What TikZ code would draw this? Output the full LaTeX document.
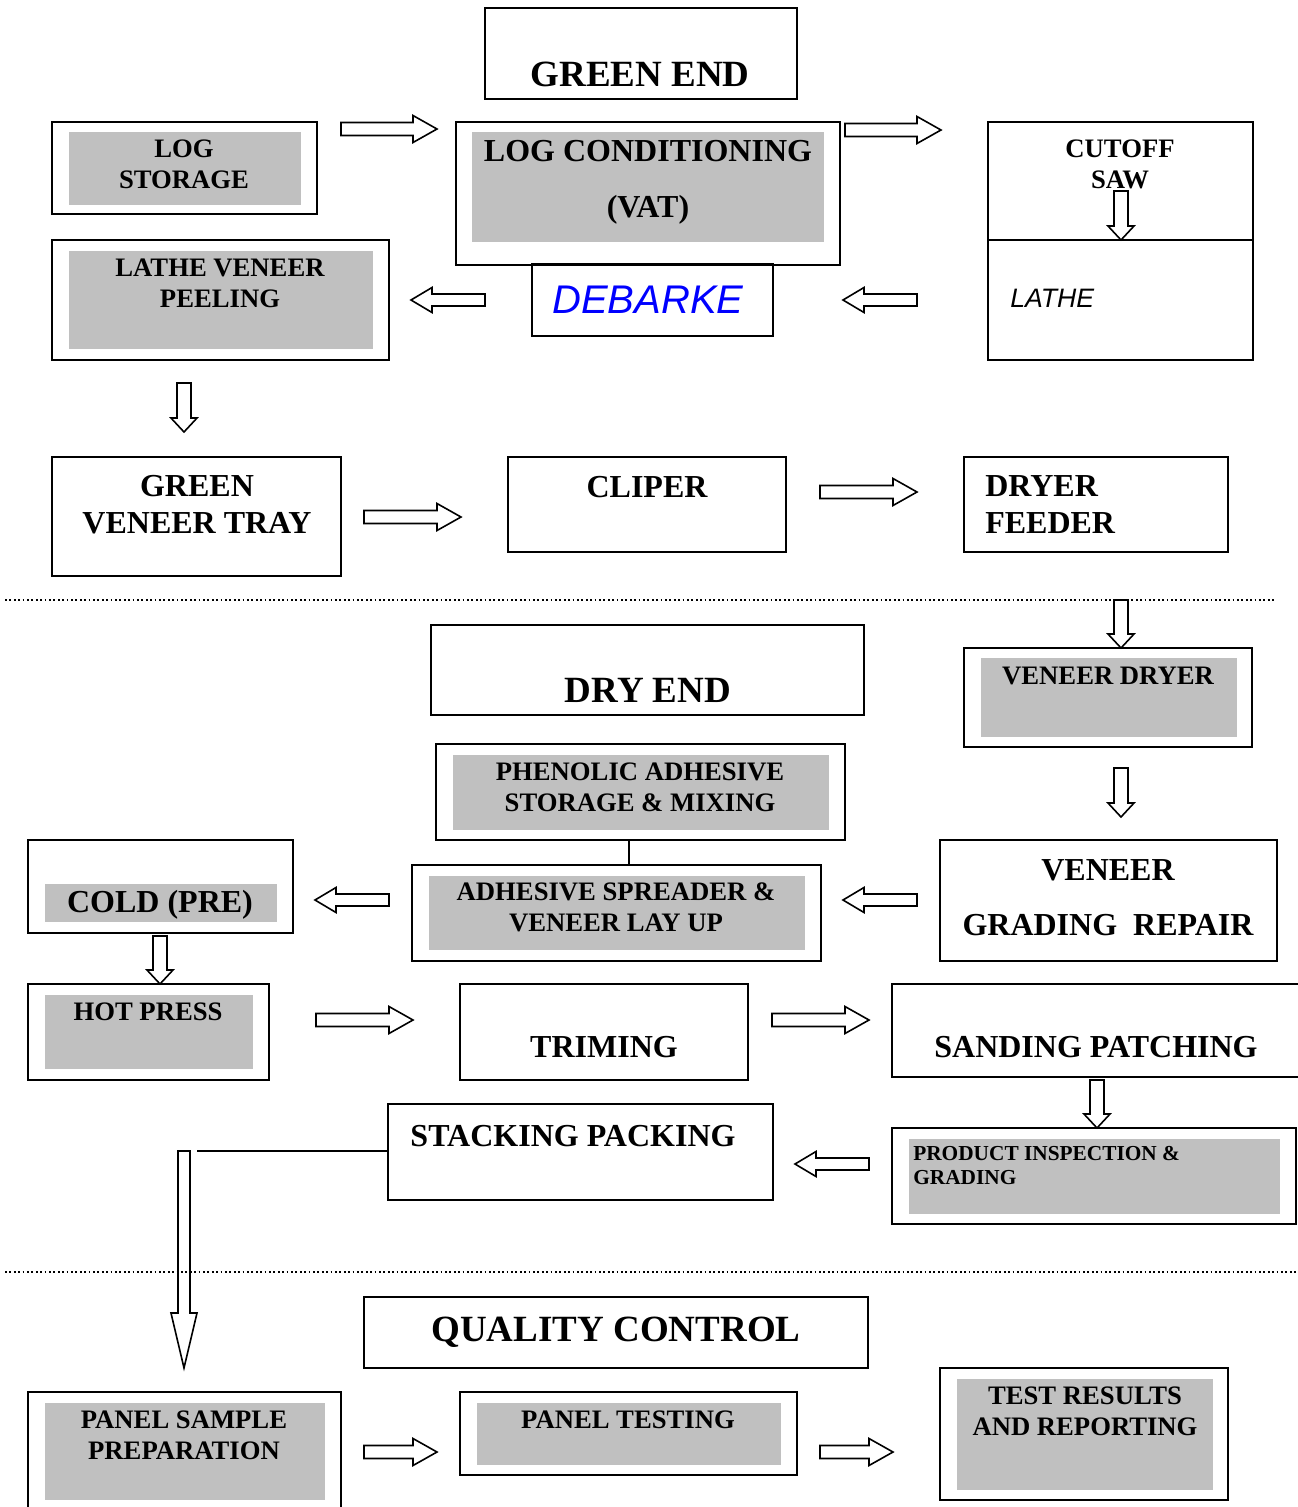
\documentclass[tikz,border=0pt]{standalone}
\usepackage{fontspec}
\setmainfont{Liberation Serif}
\newfontfamily\arialf{Liberation Sans}
\usetikzlibrary{fit}
\definecolor{boxgray}{HTML}{C0C0C0}
\definecolor{debblue}{HTML}{0000FF}
\tikzset{
  box/.style={draw, line width=1.3pt, inner sep=0pt, fit={#1}},
  shade/.style={fill=boxgray, inner sep=0pt, fit={#1}},
  tsmall/.style={font=\bfseries\fontsize{20}{23.25}\selectfont, align=center, inner sep=0pt},
  tmed/.style={font=\bfseries\fontsize{24}{27.75}\selectfont, align=center, inner sep=0pt},
  tbig/.style={font=\bfseries\fontsize{27.75}{33}\selectfont, align=center, inner sep=0pt},
  ln/.style={line width=1.3pt},
  sep/.style={line width=1.3pt, dotted},
  harrow/.style={draw, line width=1.2pt, fill=white, line join=miter}
}
% hollow block arrows
\newcommand\arrR[3]{\draw[harrow] (#1,#3-6.5) -- (#2-24,#3-6.5) -- (#2-24,#3-13.5) -- (#2,#3) -- (#2-24,#3+13.5) -- (#2-24,#3+6.5) -- (#1,#3+6.5) -- cycle;}
\newcommand\arrL[3]{\draw[harrow] (#2,#3-6) -- (#1+21,#3-6) -- (#1+21,#3-12.5) -- (#1,#3) -- (#1+21,#3+12.5) -- (#1+21,#3+6) -- (#2,#3+6) -- cycle;}
\newcommand\arrD[3]{\draw[harrow] (#1-7,#2) -- (#1+7,#2) -- (#1+7,#3-14) -- (#1+13,#3-14) -- (#1,#3) -- (#1-13,#3-14) -- (#1-7,#3-14) -- cycle;}
\begin{document}
\begin{tikzpicture}[x=0.75pt,y=-0.75pt]
\useasboundingbox (0,0) rectangle (1298,1507);

% ---------- GREEN END ----------
\node[box={(485,8) (797,99)}] (greenend) {};
\node[tbig] (greenend-t) at (640,74) {GREEN END};

\node[box={(52,122) (317,214)}] (logst) {};
\node[shade={(69,132) (301,205)}] (logst-s) {};
\node[tsmall] (logst-t) at (184,164) {LOG\\STORAGE};

\node[box={(456,122) (840,265)}] (logcond) {};
\node[shade={(472,132) (824,242)}] (logcond-s) {};
\node[tmed, font=\bfseries\fontsize{24}{42}\selectfont] (logcond-t) at (648,182) {LOG CONDITIONING\\(VAT)};

\node[box={(988,122) (1253,240)}] (cutoff) {};
\node[tsmall] (cutoff-t) at (1120,164) {CUTOFF\\SAW};
\node[box={(988,240) (1253,360)}] (lathe) {};
\node[font=\arialf\itshape\fontsize{20}{24}\selectfont, anchor=west, inner sep=0pt] (lathe-t) at (1010,298) {LATHE};

\node[box={(52,240) (389,360)}] (peel) {};
\node[shade={(69,251) (373,349)}] (peel-s) {};
\node[tsmall] (peel-t) at (220,283) {LATHE VENEER\\PEELING};

\node[box={(532,264) (773,336)}] (debark) {};
\node[font=\arialf\itshape\fontsize{30}{36}\selectfont, text=debblue, inner sep=0pt] (debark-t) at (648,300) {DEBARKE};

\node[box={(52,457) (341,576)}] (gvt) {};
\node[tmed] (gvt-t) at (197,505) {GREEN\\VENEER TRAY};

\node[box={(508,457) (786,552)}] (cliper) {};
\node[tmed] (cliper-t) at (647,487) {CLIPER};

\node[box={(964,457) (1228,552)}] (feeder) {};
\node[tmed, align=left, anchor=west] (feeder-t) at (985,505) {DRYER\\FEEDER};

\arrR{341}{437}{129}
\arrR{845}{941}{130}
\arrD{1121}{191}{240}
\arrL{411}{485}{300}
\arrL{843}{917}{300}
\arrD{184}{383}{432}
\arrR{364}{461}{517}
\arrR{820}{917}{492}

\draw[sep] (5,600) -- (1275,600);

% ---------- DRY END ----------
\node[box={(431,625) (864,715)}] (dryend) {};
\node[tbig] (dryend-t) at (648,690) {DRY END};

\node[box={(964,648) (1252,747)}] (vdryer) {};
\node[shade={(981,658) (1237,737)}] (vdryer-s) {};
\node[tsmall] (vdryer-t) at (1108,676) {VENEER DRYER};

\node[box={(436,744) (845,840)}] (phen) {};
\node[shade={(453,755) (829,830)}] (phen-s) {};
\node[tsmall] (phen-t) at (640,787) {PHENOLIC ADHESIVE\\STORAGE \& MIXING};

\node[box={(412,865) (821,961)}] (adh) {};
\node[shade={(429,876) (805,950)}] (adh-s) {};
\node[tsmall] (adh-t) at (616,907) {ADHESIVE SPREADER \&\\VENEER LAY UP};

\coordinate (pv) at (629,850);
\draw[ln] (pv |- phen.south) -- (pv |- adh.north);

\node[box={(28,840) (293,933)}] (cold) {};
\node[shade={(45,884) (277,922)}] (cold-s) {};
\node[tmed] (cold-t) at (160,905) {COLD (PRE)};

\node[box={(940,840) (1277,961)}] (grading) {};
\node[tmed, font=\bfseries\fontsize{24}{41.25}\selectfont] (grading-t) at (1108,898) {VENEER\\GRADING\ \ REPAIR};

\node[box={(28,984) (269,1080)}] (hot) {};
\node[shade={(45,995) (253,1069)}] (hot-s) {};
\node[tsmall] (hot-t) at (148,1012) {HOT PRESS};

\node[box={(460,984) (748,1080)}] (trim) {};
\node[tmed] (trim-t) at (604,1047) {TRIMING};

\node[box={(892,984) (1304,1077)}] (sand) {};
\node[tmed] (sand-t) at (1096,1047) {SANDING PATCHING};

\node[box={(892,1128) (1296,1224)}] (insp) {};
\node[shade={(909,1139) (1280,1214)}] (insp-s) {};
\node[font=\bfseries\fontsize{16}{18}\selectfont, align=left, anchor=west, inner sep=0pt] (insp-t) at (913,1165) {PRODUCT INSPECTION \&\\GRADING};

\node[box={(388,1104) (773,1200)}] (stack) {};
\node[tmed] (stack-t) at (573,1136) {STACKING PACKING};

\arrD{1121}{600}{648}
\arrD{1121}{768}{817}
\arrL{315}{389}{900}
\arrL{843}{917}{900}
\arrD{160}{936}{984}
\arrR{316}{413}{1020}
\arrR{772}{869}{1020}
\arrD{1097}{1080}{1128}
\arrL{795}{869}{1164}

\coordinate (sl) at (197,1151);
\draw[ln] (stack.west |- sl) -- (sl);
\draw[harrow] (178,1151) -- (190,1151) -- (190,1313) -- (197,1313) -- (184,1368) -- (171,1313) -- (178,1313) -- cycle;

\draw[sep] (5,1272) -- (1298,1272);

% ---------- QUALITY CONTROL ----------
\node[box={(364,1297) (868,1368)}] (qc) {};
\node[tbig] (qc-t) at (616,1332) {QUALITY CONTROL};

\node[box={(28,1392) (341,1514)}] (sample) {};
\node[shade={(45,1403) (325,1500)}] (sample-s) {};
\node[tsmall] (sample-t) at (184,1435) {PANEL SAMPLE\\PREPARATION};

\node[box={(460,1392) (797,1475)}] (testing) {};
\node[shade={(477,1403) (781,1465)}] (testing-s) {};
\node[tsmall] (testing-t) at (628,1420) {PANEL TESTING};

\node[box={(940,1368) (1228,1500)}] (results) {};
\node[shade={(957,1379) (1213,1490)}] (results-s) {};
\node[tsmall] (results-t) at (1085,1411) {TEST RESULTS\\AND REPORTING};

\arrR{364}{437}{1452}
\arrR{820}{893}{1452}
\end{tikzpicture}
\end{document}
